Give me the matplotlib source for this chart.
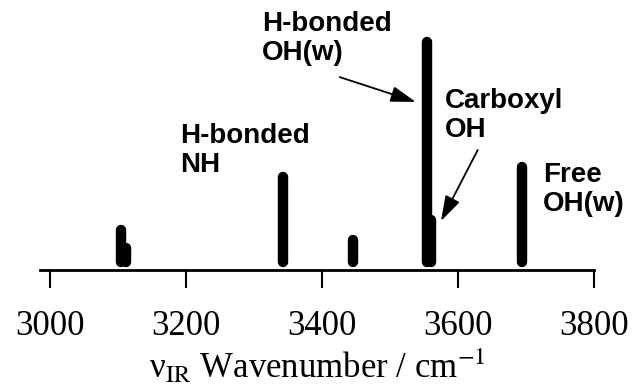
import matplotlib
matplotlib.use("Agg")
import matplotlib.pyplot as plt

plt.rcParams["mathtext.fontset"] = "stix"

# stick spectrum: line positions (cm^-1) and relative intensities
wavenumbers = [3104, 3112, 3343, 3446, 3554, 3560, 3694]
intensities = [0.175, 0.096, 0.408, 0.132, 1.0, 0.219, 0.452]
base = 0.035

xticks = [3000, 3200, 3400, 3600, 3800]

labels = ["H-bonded\nOH(w)", "Carboxyl\nOH", "H-bonded\nNH", "Free\nOH(w)"]
label_xy = [(3312, 1.135), (3581, 0.798), (3191, 0.645), (3725, 0.474)]

arrows = [((3426, 0.846), (3538, 0.737)),
          ((3629, 0.526), (3575, 0.215))]

fig = plt.figure(figsize=(6.34, 3.87), dpi=100)
ax = fig.add_axes([40 / 634, 117 / 387, (594 - 40) / 634, 270 / 387])

ax.vlines(wavenumbers, base, intensities, colors="black", linewidth=7.5,
          capstyle="round")

ax.set_xlim(2985.3, 3800)
ax.set_ylim(0, 1.184)

for s in ["top", "left", "right"]:
    ax.spines[s].set_visible(False)
ax.spines["bottom"].set_linewidth(2)
ax.set_yticks([])
ax.set_xticks(xticks)
ax.tick_params(axis="x", direction="out", length=13, width=1.5, pad=16,
               labelsize=25)
for t in ax.get_xticklabels():
    t.set_fontfamily("Liberation Serif")

ax.set_xlabel("\u03bd$_{\\mathrm{IR}}$ Wavenumber / cm$^{\\mathrm{-1}}$",
              fontsize=25, fontfamily="Liberation Serif", labelpad=3)

for txt, (x, y) in zip(labels, label_xy):
    ax.text(x, y, txt, fontsize=20, fontweight="bold",
            fontfamily="Liberation Sans", ha="left", va="top",
            linespacing=1.15, clip_on=False)

for (x0, y0), (x1, y1) in arrows:
    ax.annotate("", xy=(x1, y1), xytext=(x0, y0),
                arrowprops=dict(arrowstyle="-|>,head_length=0.7,head_width=0.22",
                                color="black", lw=1.3,
                                mutation_scale=22, shrinkA=0, shrinkB=0))

fig.savefig("out.png", dpi=100)
